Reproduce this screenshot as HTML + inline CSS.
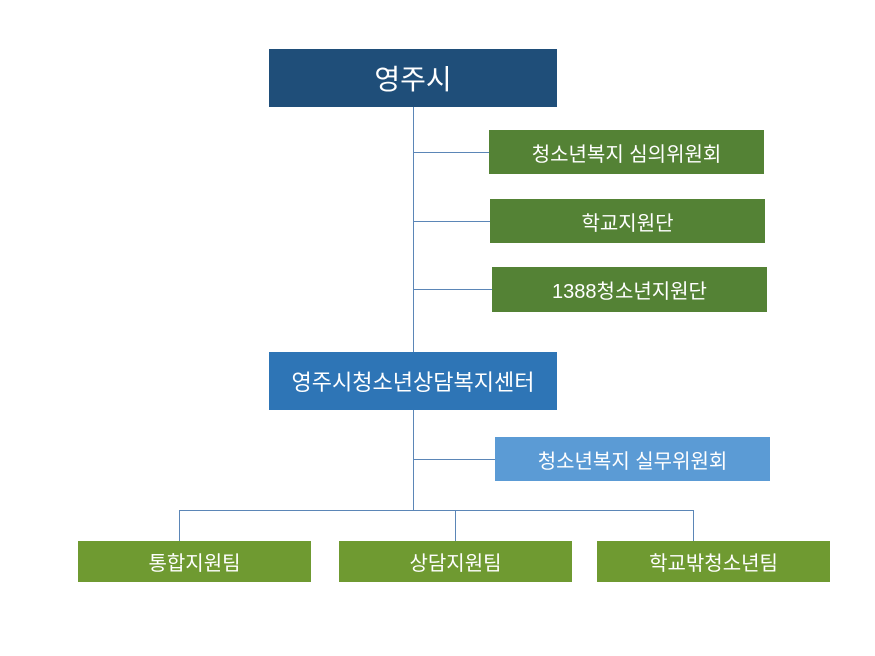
<!DOCTYPE html>
<html><head><meta charset="utf-8"><style>
body{margin:0;width:875px;height:656px;background:#fff;position:relative;overflow:hidden;font-family:"Liberation Sans","Noto Sans CJK KR",sans-serif}
.b{position:absolute;color:#fff;display:flex;align-items:center;justify-content:center;font-size:20px}
.l{position:absolute;background:#5b86b7}
</style></head><body>
<div class="l" style="left:413px;top:107px;width:1px;height:245px"></div>
<div class="l" style="left:413px;top:152px;width:76px;height:1px"></div>
<div class="l" style="left:413px;top:221px;width:77px;height:1px"></div>
<div class="l" style="left:413px;top:289px;width:79px;height:1px"></div>
<div class="l" style="left:413px;top:410px;width:1px;height:100px"></div>
<div class="l" style="left:413px;top:459px;width:82px;height:1px"></div>
<div class="l" style="left:179px;top:510px;width:515px;height:1px"></div>
<div class="l" style="left:179px;top:510px;width:1px;height:31px"></div>
<div class="l" style="left:455px;top:510px;width:1px;height:31px"></div>
<div class="l" style="left:693px;top:510px;width:1px;height:31px"></div>
<div class="b" style="left:269px;top:49px;width:288px;height:58px;background:#1f4e79;font-size:28px">영주시</div>
<div class="b" style="left:489px;top:130px;width:275px;height:44px;background:#548235">청소년복지 심의위원회</div>
<div class="b" style="left:490px;top:199px;width:275px;height:44px;background:#548235">학교지원단</div>
<div class="b" style="left:492px;top:267px;width:275px;height:45px;background:#548235">1388청소년지원단</div>
<div class="b" style="left:269px;top:352px;width:288px;height:58px;background:#2e75b6;font-size:22px">영주시청소년상담복지센터</div>
<div class="b" style="left:495px;top:437px;width:275px;height:44px;background:#5b9bd5">청소년복지 실무위원회</div>
<div class="b" style="left:78px;top:541px;width:233px;height:41px;background:#6f9a31">통합지원팀</div>
<div class="b" style="left:339px;top:541px;width:233px;height:41px;background:#6f9a31">상담지원팀</div>
<div class="b" style="left:597px;top:541px;width:233px;height:41px;background:#6f9a31">학교밖청소년팀</div>
</body></html>
